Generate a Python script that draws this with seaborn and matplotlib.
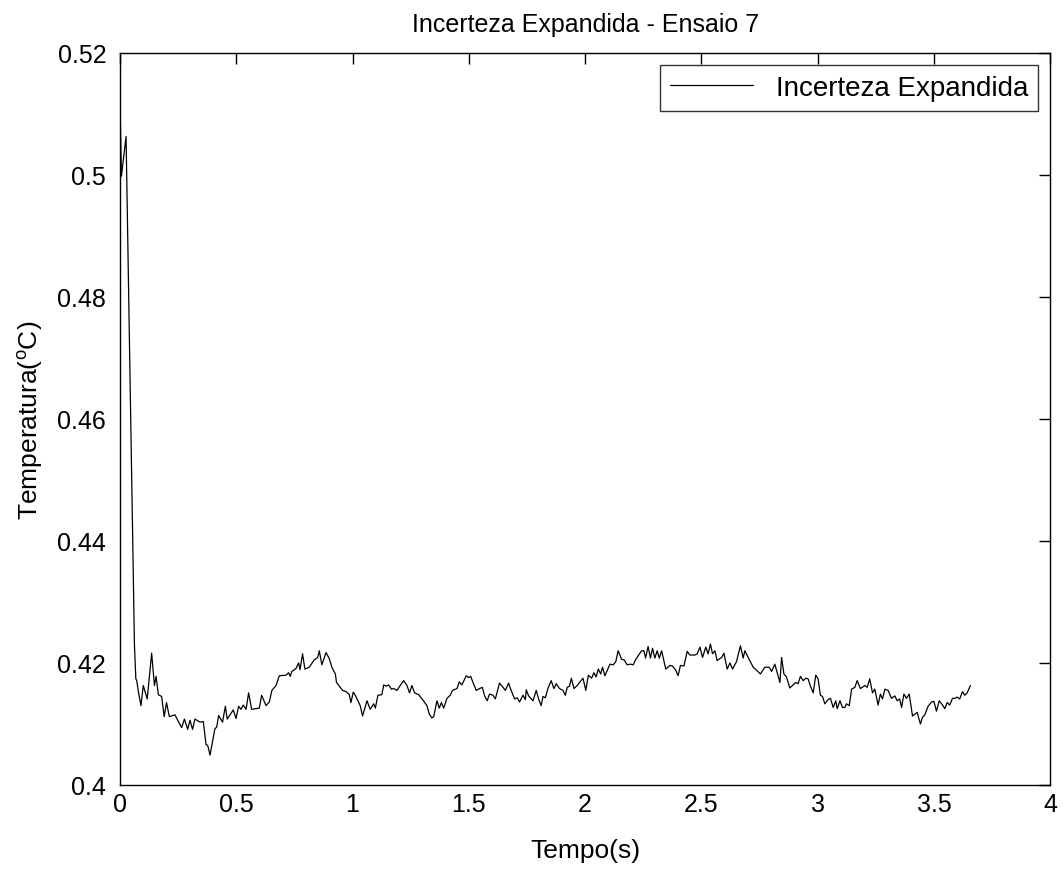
import numpy as np
import pandas as pd
import matplotlib
matplotlib.use("Agg")
import matplotlib.pyplot as plt
import seaborn as sns

# Incerteza expandida - Ensaio 7
tempo = [
    0.000, 0.006, 0.026, 0.062, 0.068, 0.072, 0.078, 0.090, 0.100, 0.117,
    0.136, 0.148, 0.155, 0.165, 0.179, 0.190, 0.200, 0.212, 0.236, 0.265,
    0.277, 0.291, 0.301, 0.312, 0.322, 0.344, 0.358, 0.370, 0.377, 0.387,
    0.408, 0.416, 0.424, 0.441, 0.453, 0.461, 0.487, 0.499, 0.510, 0.520,
    0.530, 0.542, 0.553, 0.566, 0.599, 0.609, 0.628, 0.642, 0.653, 0.671,
    0.685, 0.714, 0.725, 0.732, 0.739, 0.757, 0.768, 0.774, 0.785, 0.795,
    0.814, 0.835, 0.850, 0.857, 0.868, 0.886, 0.900, 0.911, 0.926, 0.931,
    0.957, 0.972, 0.986, 0.993, 1.003, 1.009, 1.019, 1.033, 1.043, 1.062,
    1.076, 1.091, 1.098, 1.109, 1.126, 1.134, 1.145, 1.155, 1.167, 1.177,
    1.191, 1.205, 1.220, 1.234, 1.245, 1.255, 1.267, 1.284, 1.305, 1.320,
    1.330, 1.341, 1.349, 1.363, 1.373, 1.382, 1.392, 1.406, 1.420, 1.430,
    1.449, 1.459, 1.470, 1.489, 1.499, 1.508, 1.518, 1.532, 1.546, 1.558,
    1.568, 1.579, 1.589, 1.604, 1.614, 1.632, 1.647, 1.657, 1.671, 1.682,
    1.697, 1.708, 1.718, 1.733, 1.743, 1.747, 1.757, 1.776, 1.790, 1.800,
    1.811, 1.819, 1.829, 1.840, 1.854, 1.866, 1.876, 1.890, 1.905, 1.915,
    1.923, 1.933, 1.941, 1.952, 1.966, 1.976, 1.991, 2.003, 2.014, 2.028,
    2.038, 2.047, 2.057, 2.067, 2.075, 2.085, 2.107, 2.121, 2.132, 2.142,
    2.157, 2.168, 2.181, 2.195, 2.207, 2.218, 2.243, 2.253, 2.260, 2.271,
    2.281, 2.290, 2.300, 2.310, 2.319, 2.329, 2.347, 2.365, 2.376, 2.390,
    2.400, 2.410, 2.425, 2.439, 2.451, 2.472, 2.482, 2.494, 2.505, 2.519,
    2.529, 2.539, 2.548, 2.558, 2.568, 2.587, 2.597, 2.611, 2.623, 2.634,
    2.651, 2.668, 2.680, 2.687, 2.708, 2.723, 2.737, 2.754, 2.773, 2.792,
    2.802, 2.816, 2.826, 2.838, 2.845, 2.855, 2.866, 2.880, 2.895, 2.906,
    2.916, 2.926, 2.938, 2.949, 2.959, 2.969, 2.981, 2.992, 3.002, 3.012,
    3.021, 3.031, 3.045, 3.055, 3.067, 3.078, 3.084, 3.096, 3.107, 3.117,
    3.124, 3.136, 3.146, 3.160, 3.170, 3.184, 3.203, 3.213, 3.224, 3.236,
    3.246, 3.260, 3.270, 3.279, 3.289, 3.303, 3.318, 3.332, 3.342, 3.353,
    3.361, 3.371, 3.382, 3.394, 3.408, 3.418, 3.428, 3.442, 3.451, 3.461,
    3.475, 3.490, 3.500, 3.511, 3.523, 3.537, 3.547, 3.557, 3.568, 3.580,
    3.590, 3.600, 3.611, 3.623, 3.633, 3.643, 3.657,
]
incerteza = [
    0.5120, 0.4998, 0.5063, 0.4230, 0.4174, 0.4171, 0.4155, 0.4130, 0.4163, 0.4141,
    0.4216, 0.4163, 0.4178, 0.4148, 0.4145, 0.4112, 0.4135, 0.4112, 0.4115, 0.4094,
    0.4108, 0.4091, 0.4106, 0.4091, 0.4108, 0.4103, 0.4104, 0.4066, 0.4065, 0.4049,
    0.4092, 0.4095, 0.4114, 0.4103, 0.4129, 0.4108, 0.4123, 0.4109, 0.4129, 0.4124,
    0.4131, 0.4124, 0.4151, 0.4124, 0.4126, 0.4147, 0.4130, 0.4136, 0.4155, 0.4163,
    0.4179, 0.4180, 0.4184, 0.4178, 0.4186, 0.4191, 0.4200, 0.4189, 0.4215, 0.4190,
    0.4193, 0.4205, 0.4209, 0.4220, 0.4197, 0.4217, 0.4207, 0.4193, 0.4182, 0.4168,
    0.4155, 0.4153, 0.4148, 0.4135, 0.4152, 0.4149, 0.4141, 0.4130, 0.4113, 0.4138,
    0.4124, 0.4133, 0.4126, 0.4147, 0.4148, 0.4164, 0.4162, 0.4164, 0.4157, 0.4158,
    0.4155, 0.4163, 0.4171, 0.4163, 0.4151, 0.4163, 0.4151, 0.4148, 0.4138, 0.4130,
    0.4116, 0.4110, 0.4112, 0.4138, 0.4126, 0.4135, 0.4126, 0.4142, 0.4147, 0.4155,
    0.4158, 0.4169, 0.4164, 0.4179, 0.4176, 0.4178, 0.4168, 0.4155, 0.4158, 0.4160,
    0.4146, 0.4138, 0.4149, 0.4147, 0.4141, 0.4167, 0.4160, 0.4155, 0.4167, 0.4155,
    0.4141, 0.4143, 0.4136, 0.4147, 0.4140, 0.4156, 0.4146, 0.4138, 0.4155, 0.4141,
    0.4130, 0.4145, 0.4143, 0.4158, 0.4171, 0.4158, 0.4166, 0.4158, 0.4155, 0.4147,
    0.4160, 0.4162, 0.4175, 0.4158, 0.4163, 0.4168, 0.4175, 0.4155, 0.4180, 0.4175,
    0.4184, 0.4177, 0.4190, 0.4182, 0.4193, 0.4179, 0.4198, 0.4197, 0.4202, 0.4220,
    0.4206, 0.4205, 0.4197, 0.4198, 0.4197, 0.4206, 0.4220, 0.4220, 0.4208, 0.4227,
    0.4208, 0.4224, 0.4208, 0.4220, 0.4208, 0.4220, 0.4190, 0.4196, 0.4195, 0.4188,
    0.4179, 0.4196, 0.4195, 0.4219, 0.4213, 0.4213, 0.4215, 0.4226, 0.4209, 0.4226,
    0.4215, 0.4231, 0.4215, 0.4220, 0.4204, 0.4209, 0.4216, 0.4190, 0.4200, 0.4190,
    0.4202, 0.4228, 0.4208, 0.4220, 0.4204, 0.4193, 0.4188, 0.4182, 0.4193, 0.4193,
    0.4186, 0.4198, 0.4184, 0.4168, 0.4209, 0.4182, 0.4177, 0.4159, 0.4164, 0.4168,
    0.4166, 0.4178, 0.4171, 0.4175, 0.4174, 0.4162, 0.4151, 0.4180, 0.4174, 0.4147,
    0.4145, 0.4133, 0.4140, 0.4142, 0.4127, 0.4138, 0.4125, 0.4138, 0.4127, 0.4127,
    0.4133, 0.4130, 0.4157, 0.4160, 0.4171, 0.4158, 0.4163, 0.4160, 0.4174, 0.4151,
    0.4157, 0.4131, 0.4149, 0.4141, 0.4157, 0.4155, 0.4142, 0.4146, 0.4138, 0.4141,
    0.4127, 0.4149, 0.4142, 0.4149, 0.4113, 0.4116, 0.4119, 0.4100, 0.4111, 0.4115,
    0.4129, 0.4136, 0.4137, 0.4121, 0.4138, 0.4131, 0.4125, 0.4135, 0.4131, 0.4142,
    0.4142, 0.4144, 0.4141, 0.4153, 0.4147, 0.4151, 0.4163,
]

xticks = [0, 0.5, 1, 1.5, 2, 2.5, 3, 3.5, 4]
xtick_labels = ["0", "0.5", "1", "1.5", "2", "2.5", "3", "3.5", "4"]
yticks = [0.40, 0.42, 0.44, 0.46, 0.48, 0.50, 0.52]
ytick_labels = ["0.4", "0.42", "0.44", "0.46", "0.48", "0.5", "0.52"]

df = pd.DataFrame({"Tempo": tempo, "Incerteza": incerteza})

sns.set_style("white")
plt.rcParams["font.family"] = ["Liberation Sans", "DejaVu Sans"]
plt.rcParams["mathtext.fontset"] = "custom"
plt.rcParams["mathtext.rm"] = "Liberation Sans"
plt.rcParams["mathtext.it"] = "Liberation Sans:italic"
plt.rcParams["text.color"] = "black"
plt.rcParams["axes.labelcolor"] = "black"

fig = plt.figure(figsize=(10.64, 8.70), dpi=100)
ax = fig.add_axes([0.1128, 0.0966, 0.8742, 0.8414])

sns.lineplot(data=df, x="Tempo", y="Incerteza", sort=False, estimator=None,
             color="black", linewidth=0.9, label="Incerteza Expandida", ax=ax)

ax.set_xlim(0, 4)
ax.set_ylim(0.40, 0.52)
ax.set_xticks(xticks)
ax.set_xticklabels(xtick_labels)
ax.set_yticks(yticks)
ax.set_yticklabels(ytick_labels)
ax.tick_params(direction="in", length=8, width=1, top=True, right=True,
               labelsize=18, colors="black")
ax.tick_params(axis="x", pad=5)
ax.tick_params(axis="y", pad=10)
for s in ax.spines.values():
    s.set_color("black")
    s.set_linewidth(1.0)

ax.set_title("Incerteza Expandida - Ensaio 7", fontsize=18, pad=16, color="black")
ax.set_xlabel("Tempo(s)", fontsize=19, labelpad=16)
ax.set_ylabel(r"Temperatura($^{\mathrm{o}}$C)", fontsize=19, labelpad=9)

leg = ax.legend(loc="upper right", fontsize=20, frameon=True, fancybox=False,
                handlelength=3.0, borderaxespad=0.45, borderpad=0.35)
leg.get_frame().set_edgecolor("black")
leg.get_frame().set_linewidth(1.0)
for t in leg.get_texts():
    t.set_color("black")

fig.savefig("out.png", dpi=100)
